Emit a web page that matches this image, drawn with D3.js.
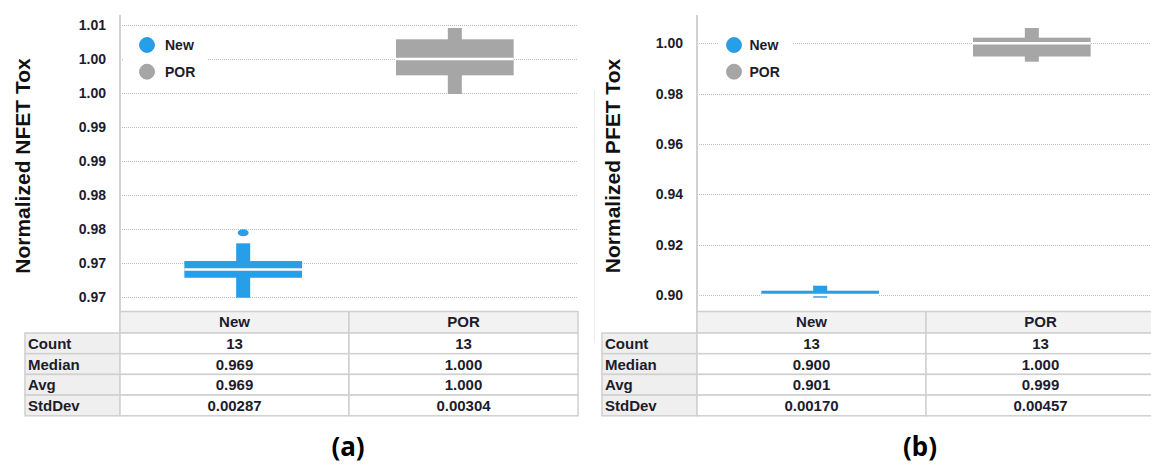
<!DOCTYPE html>
<html>
<head>
<meta charset="utf-8">
<script src="https://cdn.jsdelivr.net/npm/d3@7"></script>
<style>
  html, body { margin: 0; padding: 0; background: #fff; }
  svg { display: block; }
  text { font-family: "Liberation Sans", Arial, sans-serif; }
</style>
</head>
<body>
<svg id="chart" width="1151" height="467"></svg>
<script>
// ---- data ----
const categories = ["New", "POR"];
const statRows = ["Count", "Median", "Avg", "StdDev"];

// (a) NFET Tox box statistics
const nfetWhiskerLow  = [0.96485, 0.99484];
const nfetQ1          = [0.96779, 0.99759];
const nfetQ3          = [0.97025, 1.00289];
const nfetWhiskerHigh = [0.97286, 1.00456];
const nfetOutliers    = [[0.97442], []];
const nfetCount  = [13, 13];
const nfetMedian = [0.969, 1.000];
const nfetAvg    = [0.969, 1.000];
const nfetStdDev = [0.00287, 0.00304];
const nfetTicks      = [0.965, 0.970, 0.975, 0.980, 0.985, 0.990, 0.995, 1.000, 1.005];
const nfetTickLabels = ["0.97", "0.97", "0.98", "0.98", "0.99", "0.99", "1.00", "1.00", "1.01"];

// (b) PFET Tox box statistics
const pfetWhiskerLow  = [0.89893, 0.99269];
const pfetQ1          = [0.89995, 0.99475];
const pfetQ3          = [0.90171, 1.00223];
const pfetWhiskerHigh = [0.90370, 1.00608];
const pfetOutliers    = [[], []];
const pfetCount  = [13, 13];
const pfetMedian = [0.900, 1.000];
const pfetAvg    = [0.901, 0.999];
const pfetStdDev = [0.00170, 0.00457];
const pfetTicks      = [0.90, 0.92, 0.94, 0.96, 0.98, 1.00];
const pfetTickLabels = ["0.90", "0.92", "0.94", "0.96", "0.98", "1.00"];

const seriesColors = ["#279fe8", "#a6a6a6"];

// ---- drawing ----
const svg = d3.select("#chart");
const plotW = 458, plotTop = 15, plotBottom = 309;
const headerTop = 311.5, headerH = 21.5, rowH = 20.7;
const inkColor = "#1c1c2c";

function drawPanel(cfg) {
  const g = svg.append("g").attr("transform", `translate(${cfg.x0},0)`);

  const y = d3.scaleLinear().domain(cfg.domain).range([plotBottom, plotTop]);
  const x = d3.scalePoint().domain(categories).range([0, plotW]).padding(0.582);
  const step = x.step();
  const boxW = step * 0.556, whiskW = 14;
  const crisp = v => Math.round(v) + 0.5;

  // dotted grid lines
  g.append("g").selectAll("line").data(cfg.ticks).join("line")
    .attr("x1", 0).attr("x2", plotW)
    .attr("y1", d => crisp(y(d))).attr("y2", d => crisp(y(d)))
    .attr("stroke", "#bdbdbd").attr("stroke-width", 1)
    .attr("stroke-dasharray", "1,1");

  // y axis with explicit tick labels
  const axis = d3.axisLeft(y).tickValues(cfg.ticks)
    .tickFormat((d, i) => cfg.tickLabels[i]).tickSize(0).tickPadding(14);
  const ax = g.append("g").call(axis);
  ax.select(".domain").remove();
  ax.selectAll("text")
    .attr("fill", inkColor).attr("font-size", 14).attr("font-weight", "bold")
    .style("font-family", "'Liberation Sans', Arial, sans-serif");

  // axis line running into the table
  g.append("line").attr("x1", 0).attr("x2", 0)
    .attr("y1", plotTop).attr("y2", headerTop + headerH + rowH * 4)
    .attr("stroke", "#d2d2d2").attr("stroke-width", 2);

  // axis title
  g.append("text")
    .attr("transform", `translate(${cfg.titleX},${(plotTop + plotBottom) / 2 + 4}) rotate(-90)`)
    .attr("text-anchor", "middle").attr("dominant-baseline", "middle")
    .attr("font-size", 21).attr("font-weight", "bold").attr("fill", "#111")
    .text(cfg.title);

  // box plots
  categories.forEach((c, i) => {
    const cx = x(c);
    const col = seriesColors[i];
    g.append("rect")
      .attr("x", cx - whiskW / 2).attr("width", whiskW)
      .attr("y", y(cfg.whiskerHigh[i]))
      .attr("height", y(cfg.whiskerLow[i]) - y(cfg.whiskerHigh[i]))
      .attr("fill", col);
    g.append("rect")
      .attr("x", cx - boxW / 2).attr("width", boxW)
      .attr("y", y(cfg.q3[i]))
      .attr("height", y(cfg.q1[i]) - y(cfg.q3[i]))
      .attr("fill", col);
    g.append("line")
      .attr("x1", cx - boxW / 2).attr("x2", cx + boxW / 2)
      .attr("y1", y(cfg.median[i])).attr("y2", y(cfg.median[i]))
      .attr("stroke", "#fff").attr("stroke-width", 2.4);
    g.append("g").selectAll("ellipse").data(cfg.outliers[i]).join("ellipse")
      .attr("cx", cx).attr("cy", d => y(d))
      .attr("rx", 5.5).attr("ry", 3.5).attr("fill", col);
  });

  // legend
  const lg = g.append("g");
  lg.append("rect").attr("x", cfg.legend.bgX).attr("y", 31)
    .attr("width", cfg.legend.bgW).attr("height", 54).attr("fill", "#fff");
  categories.forEach((c, i) => {
    const ly = 45 + i * 26.7;
    lg.append("circle").attr("cx", cfg.legend.dotX).attr("cy", ly).attr("r", 7.5)
      .attr("fill", seriesColors[i])
      .attr("stroke", i ? "#9a9a9a" : "#1f93dc").attr("stroke-width", 0.8);
    lg.append("text").attr("x", cfg.legend.textX).attr("y", ly + 5)
      .attr("font-size", 14).attr("font-weight", "bold").attr("fill", inkColor)
      .text(c);
  });

  // statistics table
  const colX = d3.scaleBand().domain(categories).range([0, plotW]);
  const tg = g.append("g");
  const labelX0 = -95;
  const values = [
    cfg.count.map(d => d3.format("d")(d)),
    cfg.median.map(d => d3.format(".3f")(d)),
    cfg.avg.map(d => d3.format(".3f")(d)),
    cfg.stdDev.map(d => d3.format(".5f")(d))
  ];
  const cellStroke = "#d0d0d0";

  // header row
  categories.forEach(c => {
    tg.append("rect").attr("x", colX(c)).attr("y", headerTop)
      .attr("width", colX.bandwidth()).attr("height", headerH)
      .attr("fill", "#f2f2f2").attr("stroke", cellStroke).attr("stroke-width", 1.5);
    tg.append("text").attr("x", colX(c) + colX.bandwidth() / 2).attr("y", headerTop + headerH / 2 + 5)
      .attr("text-anchor", "middle").attr("font-size", 15).attr("font-weight", "bold")
      .attr("fill", inkColor).text(c);
  });

  statRows.forEach((r, ri) => {
    const ry = headerTop + headerH + ri * rowH;
    tg.append("rect").attr("x", labelX0).attr("y", ry)
      .attr("width", -labelX0).attr("height", rowH)
      .attr("fill", "#efefef").attr("stroke", cellStroke).attr("stroke-width", 1.5);
    tg.append("text").attr("x", labelX0 + 3).attr("y", ry + rowH / 2 + 5.5)
      .attr("font-size", 15).attr("font-weight", "bold").attr("fill", inkColor).text(r);
    categories.forEach((c, ci) => {
      tg.append("rect").attr("x", colX(c)).attr("y", ry)
        .attr("width", colX.bandwidth()).attr("height", rowH)
        .attr("fill", "#fff").attr("stroke", cellStroke).attr("stroke-width", 1.5);
      tg.append("text").attr("x", colX(c) + colX.bandwidth() / 2).attr("y", ry + rowH / 2 + 5.5)
        .attr("text-anchor", "middle").attr("font-size", 15).attr("font-weight", "bold")
        .attr("fill", inkColor).text(values[ri][ci]);
    });
  });

  // panel caption
  svg.append("text").attr("x", cfg.captionX).attr("y", 456)
    .attr("text-anchor", "middle").attr("font-size", 26).attr("font-weight", "bold")
    .style("font-family", "'Noto Sans', 'Open Sans', sans-serif")
    .attr("fill", "#000").text(cfg.caption);
}

drawPanel({
  x0: 120, domain: [0.96319, 1.00647],
  ticks: nfetTicks, tickLabels: nfetTickLabels,
  title: "Normalized NFET Tox", titleX: -96,
  whiskerLow: nfetWhiskerLow, q1: nfetQ1, q3: nfetQ3, whiskerHigh: nfetWhiskerHigh,
  outliers: nfetOutliers, median: nfetMedian,
  count: nfetCount, avg: nfetAvg, stdDev: nfetStdDev,
  legend: { bgX: 3, bgW: 85, dotX: 27, textX: 45 },
  caption: "(a)", captionX: 348
});

// faint separator between the two panels
svg.append("line").attr("x1", 594.5).attr("x2", 594.5).attr("y1", 90).attr("y2", 343)
  .attr("stroke", "#ececec").attr("stroke-width", 1);

drawPanel({
  x0: 697, domain: [0.89444, 1.01124],
  ticks: pfetTicks, tickLabels: pfetTickLabels,
  title: "Normalized PFET Tox", titleX: -83,
  whiskerLow: pfetWhiskerLow, q1: pfetQ1, q3: pfetQ3, whiskerHigh: pfetWhiskerHigh,
  outliers: pfetOutliers, median: pfetMedian,
  count: pfetCount, avg: pfetAvg, stdDev: pfetStdDev,
  legend: { bgX: 21, bgW: 74, dotX: 37, textX: 52.5 },
  caption: "(b)", captionX: 920
});
</script>
</body>
</html>
